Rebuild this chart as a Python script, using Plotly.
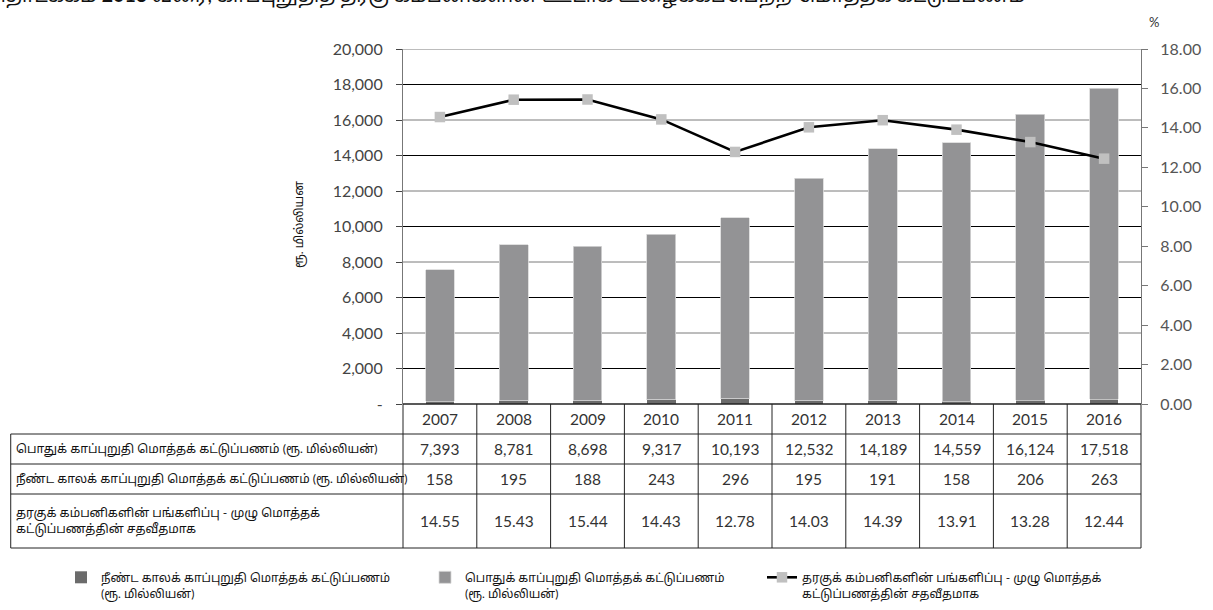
import plotly.graph_objects as go

years = ["2007", "2008", "2009", "2010", "2011", "2012", "2013", "2014", "2015", "2016"]
general_premium = [7393, 8781, 8698, 9317, 10193, 12532, 14189, 14559, 16124, 17518]
longterm_premium = [158, 195, 188, 243, 296, 195, 191, 158, 206, 263]
broker_share_pct = [14.55, 15.43, 15.44, 14.43, 12.78, 14.03, 14.39, 13.91, 13.28, 12.44]

row_labels = [
    "பொதுக் காப்புறுதி மொத்தக் கட்டுப்பணம் (ரூ. மில்லியன்)",
    "நீண்ட காலக் காப்புறுதி மொத்தக் கட்டுப்பணம் (ரூ. மில்லியன்)",
    "தரகுக் கம்பனிகளின் பங்களிப்பு - முழு மொத்தக்<br>கட்டுப்பணத்தின் சதவீதமாக",
]
legend_names = [
    "நீண்ட காலக் காப்புறுதி மொத்தக் கட்டுப்பணம்<br>(ரூ. மில்லியன்)",
    "பொதுக் காப்புறுதி மொத்தக் கட்டுப்பணம்<br>(ரூ. மில்லியன்)",
    "தரகுக் கம்பனிகளின் பங்களிப்பு - முழு மொத்தக்<br>கட்டுப்பணத்தின் சதவீதமாக",
]
y_title = "ரூ. மில்லியன"
title_text = "2007 தொடக்கம் <b>2016</b> வரை, காப்புறுதித் தரகு கம்பனிகளின் ஊடாக உழைக்கப்பெற்ற மொத்தக் கட்டுப்பணம்"

W, H = 1213, 610
L, R, T, B = 403, 1148, 49, 404
FONT = 'Lato, "Noto Sans Tamil", "Noto Sans", sans-serif'
NUMFONT = 'Lato, "Noto Sans", sans-serif'


def py(p):
    return (B - p) / (B - T)


def px(p):
    return (p - L) / (R - L)


fig = go.Figure()
fig.add_trace(go.Bar(
    x=years, y=longterm_premium, name=legend_names[0],
    marker=dict(color="#6b6b6b", line=dict(width=0)), width=0.39, legend="legend",
))
fig.add_trace(go.Bar(
    x=years, y=general_premium, name=legend_names[1],
    marker=dict(color="#939395", line=dict(color="#d8d8d8", width=0.8)), width=0.39, legend="legend2",
))
fig.add_trace(go.Scatter(
    x=years, y=broker_share_pct, name=legend_names[2], yaxis="y2", mode="lines+markers",
    line=dict(color="#000000", width=2.6),
    marker=dict(symbol="square", size=10.5, color="#c0c0c0", line=dict(width=0)),
    legend="legend3",
))

shapes = []
left_vals = list(range(0, 20001, 2000))
for v in left_vals[1:]:
    col = "#7a7a7a" if v % 4000 == 0 else "#000000"
    shapes.append(dict(type="line", xref="paper", yref="y", x0=0, x1=1, y0=v, y1=v,
                       line=dict(color=col, width=1), layer="below"))

line_c = "#222222"
row_edges = [404, 434, 464, 494, 548]
shapes.append(dict(type="line", xref="paper", yref="paper", x0=0, x1=1,
                   y0=py(row_edges[0]), y1=py(row_edges[0]), line=dict(color=line_c, width=1.3)))
for e in row_edges[1:]:
    shapes.append(dict(type="line", xref="paper", yref="paper", x0=px(7), x1=1,
                       y0=py(e), y1=py(e), line=dict(color=line_c, width=1)))
n = len(years)
for i in range(n + 1):
    shapes.append(dict(type="line", xref="paper", yref="paper", x0=i / n, x1=i / n,
                       y0=py(row_edges[0]), y1=py(row_edges[-1]), line=dict(color=line_c, width=1)))
shapes.append(dict(type="line", xref="paper", yref="paper", x0=px(7), x1=px(7),
                   y0=py(row_edges[1]), y1=py(row_edges[-1]), line=dict(color=line_c, width=1)))

ann = []
centers = [(row_edges[k] + row_edges[k + 1]) / 2 for k in range(4)]
rows = [years,
        [f"{v:,}" for v in general_premium],
        [f"{v:,}" for v in longterm_premium],
        [f"{v:.2f}" for v in broker_share_pct]]
for k, vals in enumerate(rows):
    for i, t in enumerate(vals):
        ann.append(dict(x=i, xref="x", y=py(centers[k]), yref="paper", text=t,
                        showarrow=False, font=dict(family=NUMFONT, size=15.5, color="#333333"),
                        xanchor="center", yanchor="middle"))
for k, t in enumerate(row_labels):
    ann.append(dict(x=px(10), xref="paper", y=py(centers[k + 1]), yref="paper", text=t,
                    showarrow=False, font=dict(family=FONT, size=12.2, color="#111111"),
                    xanchor="left", yanchor="middle", align="left"))

ann.append(dict(x=px(298), xref="paper", y=py(224), yref="paper", text=y_title, textangle=-90,
                xanchor="center", yanchor="middle",
                showarrow=False, font=dict(family=FONT, size=12, color="#111111")))
ann.append(dict(x=px(1161), xref="paper", y=py(22), yref="paper", text="%",
                xanchor="center", yanchor="middle",
                showarrow=False, font=dict(family=NUMFONT, size=13, color="#333333")))
ann.append(dict(x=px(-68), xref="paper", y=py(-4), yref="paper", text=title_text, xanchor="left",
                yanchor="middle", showarrow=False, font=dict(family=FONT, size=19.5, color="#111111")))

left_text = ["-" if v == 0 else f"{v:,}" for v in left_vals]

leg_common = dict(orientation="h", xref="container", yref="container", yanchor="top",
                  bgcolor="rgba(0,0,0,0)", font=dict(family=FONT, size=12, color="#111111"),
                  valign="top", borderwidth=0)

fig.update_layout(
    width=W, height=H,
    margin=dict(l=L, r=W - R, t=T, b=H - B, pad=0),
    paper_bgcolor="white", plot_bgcolor="white",
    barmode="stack", bargap=0.6,
    font=dict(family=FONT, color="#333333"),
    showlegend=True,
    legend=dict(x=61 / W, y=1 - 563 / H, **leg_common),
    legend2=dict(x=425 / W, y=1 - 563 / H, **leg_common),
    legend3=dict(x=762 / W, y=1 - 563 / H, **leg_common),
    xaxis=dict(type="category", range=[-0.5, 9.5], showticklabels=False, ticks="",
               showgrid=False, showline=False, zeroline=False),
    yaxis=dict(range=[0, 20000], tickvals=left_vals, ticktext=left_text,
               showgrid=False, ticklabelstandoff=10,
               ticks="outside", ticklen=6, tickcolor="#444444",
               showline=True, linecolor="#777777", linewidth=1.2, zeroline=False,
               tickfont=dict(family=NUMFONT, size=16, color="#444444")),
    yaxis2=dict(range=[0, 18], overlaying="y", side="right", dtick=2, tick0=0, tickformat=".2f",
                showgrid=False, zeroline=False, ticks="outside", ticklen=6, tickcolor="#777777",
                showline=True, linecolor="#777777", linewidth=1.2, ticklabelstandoff=9,
                tickfont=dict(family=NUMFONT, size=16, color="#555555")),
    shapes=shapes, annotations=ann,
)

fig.write_html(
    "out.html",
    config={"displayModeBar": False},
    post_script="document.body.style.margin='0';document.body.style.overflow='hidden';",
)
